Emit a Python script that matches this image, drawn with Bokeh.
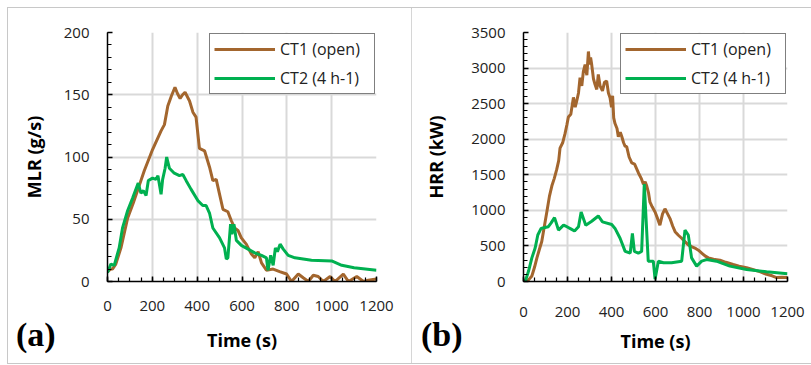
from bokeh.plotting import figure
from bokeh.models import Range1d, Legend, LegendItem, FixedTicker, Div
from bokeh.layouts import row
from bokeh.embed import file_html
from bokeh.resources import INLINE

# ---- Panel (a): MLR ----
mlr_ct1_t = [0, 15, 22, 37, 60, 90, 115, 134, 164, 201, 239, 254, 269, 285, 301, 312, 324, 335, 346, 366, 381, 395,
             410, 433, 455, 470, 485, 500, 515, 537, 552, 567, 582, 597, 619, 642, 657, 672, 687, 709, 739, 768, 799,
             821, 851, 873, 896, 918, 940, 963, 993, 1015, 1052, 1075, 1112, 1142, 1163, 1200]
mlr_ct1 = [8, 10, 10, 14, 27, 51, 63, 73, 89, 106, 121, 126, 141, 149, 156, 151, 147, 150, 152, 145, 136, 132,
           107, 105, 92, 81, 82, 70, 58, 56, 49, 43, 41, 35, 30, 22, 19, 24, 15, 9, 10, 8, 6,
           0, 6, 3, 0, 5, 4, 0, 4, 0, 6, 0, 4, 0, 1, 2]

mlr_ct2_t = [0, 15, 30, 52, 67, 90, 112, 137, 149, 160, 172, 182, 201, 216, 225, 239, 246, 257, 264, 276, 298, 321,
             336, 351, 373, 403, 425, 440, 455, 470, 500, 522, 530, 537, 549, 555, 564, 575, 597, 627, 657, 687, 709,
             716, 728, 739, 749, 758, 770, 784, 806, 836, 910, 1000, 1045, 1100, 1200]
mlr_ct2 = [7, 14, 13, 27, 43, 57, 67, 79, 71, 73, 69, 81, 83, 82, 85, 70, 82, 91, 100, 91, 87, 85,
           86, 81, 74, 65, 61, 61, 55, 43, 35, 27, 18, 19, 46, 38, 46, 33, 29, 26, 23, 21, 19,
           9, 21, 13, 27, 24, 30, 26, 21, 19, 17, 16.5, 13, 11, 9]

# ---- Panel (b): HRR ----
hrr_ct1_t = [0, 15, 25, 38, 50, 61, 72, 83, 95, 106, 118, 129, 140, 151, 160, 166, 178, 189, 197, 204, 215, 227,
             235, 242, 250, 257, 265, 272, 280, 288, 295, 300, 305, 310, 318, 325, 333, 340, 348, 359, 368, 378,
             386, 393, 400, 405, 410, 416, 425, 431, 440, 447, 455, 462, 469, 480, 492, 505, 522, 535, 545, 553,
             560, 568, 575, 585, 598, 610, 620, 632, 643, 655, 666, 678, 689, 704, 719, 734, 749, 764, 779, 795,
             810, 825, 840, 855, 870, 893, 920, 953, 980, 1014, 1045, 1074, 1105, 1130, 1150, 1175, 1200]
hrr_ct1 = [0, 0, 30, 78, 200, 332, 450, 562, 780, 977, 1200, 1345, 1450, 1575, 1700, 1875, 1950, 2082, 2200, 2312,
           2350, 2588, 2450, 2540, 2650, 2864, 2750, 2950, 3049, 2900, 3233, 3050, 3150, 3049, 2850, 2772, 2700,
           2910, 2750, 2680, 2800, 2818, 2650, 2588, 2450, 2611, 2300, 2220, 2150, 2035, 2100, 2035, 1950, 1900,
           1897, 1750, 1667, 1650, 1529, 1450, 1368, 1400, 1345, 1250, 1115, 1050, 977, 880, 792, 950, 1022, 950,
           884, 780, 700, 650, 608, 560, 515, 490, 470, 440, 400, 360, 332, 320, 308, 300, 270, 239, 215, 193,
           165, 138, 101, 80, 55, 60, 55]

hrr_ct2_t = [0, 10, 23, 38, 53, 65, 80, 98, 113, 125, 141, 159, 182, 197, 215, 232, 250, 262, 283, 310, 340, 359,
             401, 416, 439, 462, 485, 495, 504, 522, 537, 549, 567, 590, 598, 613, 636, 673, 719, 734, 749, 764,
             787, 810, 832, 877, 938, 1014, 1105, 1200]
hrr_ct2 = [0, 20, 147, 332, 470, 654, 746, 760, 770, 820, 898, 723, 792, 770, 740, 709, 770, 977, 792, 847, 921,
           838, 801, 746, 608, 424, 400, 677, 424, 400, 424, 1368, 286, 286, 32, 286, 263, 263, 286, 723, 654, 332,
           216, 286, 308, 286, 216, 170, 138, 110]

x_ticks = [0, 200, 400, 600, 800, 1000, 1200]
mlr_ticks = [0, 50, 100, 150, 200]
hrr_ticks = [0, 500, 1000, 1500, 2000, 2500, 3000, 3500]
series_names = ["CT1 (open)", "CT2 (4 h-1)"]
panel_labels = ["(a)", "(b)"]

BROWN = "#a3662e"
GREEN = "#00b050"
TICK_FONT = "Open Sans"
GRID = "#d9d9d9"


def style_axes(p, yticks, yminor, ystand, ylab_stand, xstand, xlab_stand):
    p.xaxis.ticker = FixedTicker(ticks=x_ticks, minor_ticks=list(range(0, 1201, 50)))
    p.yaxis.ticker = FixedTicker(ticks=yticks, minor_ticks=yminor)
    for ax in (p.xaxis[0], p.yaxis[0]):
        ax.major_tick_in = 5
        ax.major_tick_out = 0
        ax.minor_tick_in = 4
        ax.minor_tick_out = 0
        ax.axis_line_color = "black"
        ax.axis_line_width = 1.5
        ax.major_tick_line_color = "black"
        ax.major_tick_line_width = 1.5
        ax.minor_tick_line_color = "black"
        ax.minor_tick_line_width = 1.2
        ax.major_label_text_font = TICK_FONT
        ax.major_label_text_font_size = "15px"
        ax.major_label_text_color = "#222222"
        ax.axis_label_text_font = TICK_FONT
        ax.axis_label_text_font_size = "18px"
        ax.axis_label_text_font_style = "bold"
        ax.axis_label_text_color = "black"
    p.yaxis.major_label_standoff = ystand
    p.yaxis.axis_label_standoff = ylab_stand
    p.xaxis.major_label_standoff = xstand
    p.xaxis.axis_label_standoff = xlab_stand
    p.xgrid.ticker = FixedTicker(ticks=x_ticks)
    p.ygrid.ticker = FixedTicker(ticks=yticks)
    for g in (p.xgrid[0], p.ygrid[0]):
        g.grid_line_color = GRID
        g.grid_line_width = 2
    p.outline_line_color = None
    p.background_fill_color = "white"
    p.border_fill_color = "white"


def add_legend(p, r1, r2):
    leg = Legend(items=[LegendItem(label=series_names[0], renderers=[r1]),
                        LegendItem(label=series_names[1], renderers=[r2])],
                 location="top_right")
    leg.margin = 1
    leg.padding = 4
    leg.spacing = 7
    leg.glyph_width = 61
    leg.glyph_height = 10
    leg.label_height = 10
    leg.label_width = 90
    leg.label_standoff = 5
    leg.label_text_font = TICK_FONT
    leg.label_text_font_size = "16px"
    leg.label_text_color = "#222222"
    leg.border_line_color = "black"
    leg.border_line_width = 1.5
    leg.background_fill_color = "white"
    leg.background_fill_alpha = 1.0
    p.add_layout(leg)


def panel_div(text, left, top):
    return Div(text=text, styles={"position": "absolute", "left": f"{left}px", "top": f"{top}px",
                                  "font-family": "Liberation Serif", "font-weight": "bold",
                                  "font-size": "34px", "line-height": "1", "color": "black",
                                  "margin": "0", "padding": "0"})


# Figure (a)
pa = figure(width=403, height=355, output_backend="svg", toolbar_location=None,
            x_range=Range1d(0, 1200), y_range=Range1d(0, 200),
            min_border_left=99, min_border_right=35, min_border_top=24, min_border_bottom=82,
            x_axis_label="Time (s)", y_axis_label="MLR (g/s)")
ra1 = pa.line(mlr_ct1_t, mlr_ct1, line_color=BROWN, line_width=3)
ra2 = pa.line(mlr_ct2_t, mlr_ct2, line_color=GREEN, line_width=3)
style_axes(pa, mlr_ticks, list(range(0, 201, 10)), 18, 15, 19, 14)
add_legend(pa, ra1, ra2)
pa.styles = {"box-shadow": "0 0 0 1px #c8c8c8"}

# Figure (b)
pb = figure(width=400, height=355, output_backend="svg", toolbar_location=None,
            x_range=Range1d(0, 1200), y_range=Range1d(0, 3500),
            min_border_left=112, min_border_right=24, min_border_top=23, min_border_bottom=79,
            x_axis_label="Time (s)", y_axis_label="HRR (kW)")
rb1 = pb.line(hrr_ct1_t, hrr_ct1, line_color=BROWN, line_width=3)
rb2 = pb.line(hrr_ct2_t, hrr_ct2, line_color=GREEN, line_width=3)
style_axes(pb, hrr_ticks, list(range(0, 3501, 100)), 18, 20, 25, 9)
add_legend(pb, rb1, rb2)
pb.styles = {"box-shadow": "0 -1px 0 0 #c8c8c8, 0 1px 0 0 #c8c8c8"}

div_a = panel_div(panel_labels[0], 8, 310)
div_b = panel_div(panel_labels[1], 413, 310)

layout = row(pa, pb, div_a, div_b, spacing=0, margin=(8, 0, 0, 8), styles={"position": "relative"})
open("out.html", "w").write(file_html(layout, INLINE))
